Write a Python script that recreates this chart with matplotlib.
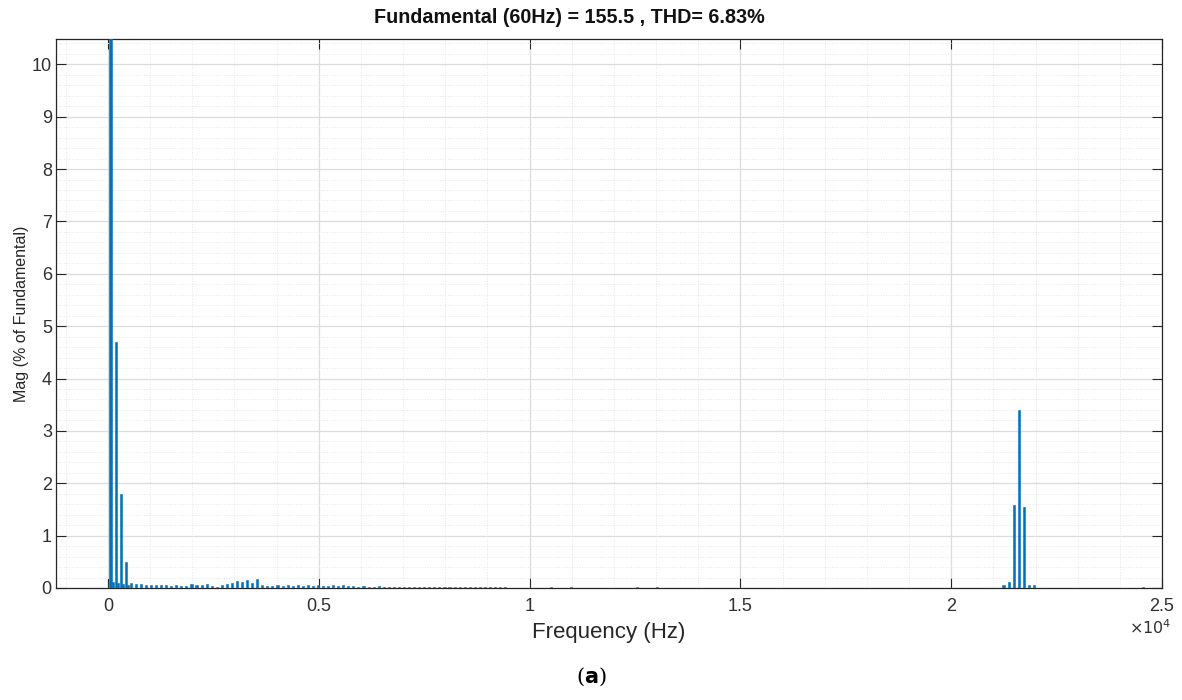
import matplotlib
matplotlib.use('Agg')
from matplotlib import pyplot as plt
from matplotlib.ticker import MultipleLocator, FuncFormatter

# harmonic orders of 60 Hz and magnitude in % of fundamental
low_orders = [1, 2, 3, 4, 5, 6, 7, 8]
low_mags = [100.0, 0.12, 4.7, 0.10, 1.8, 0.08, 0.5, 0.06]

mid_orders = [9, 11, 13, 15, 17, 19, 21, 23, 25, 27, 29, 31, 33, 35, 37, 39,
              41, 43, 45, 47, 49, 51, 53, 55, 57, 59, 61, 63, 65, 67, 69, 71,
              73, 75, 77, 79, 81, 83, 85, 87, 89, 91, 93, 95, 97, 99, 101, 103,
              105, 107, 109, 111, 113, 115, 117, 119, 121, 123, 125, 127, 129,
              131, 133, 135, 137, 139, 141, 143, 145, 147, 149, 151, 153, 155, 157]
mid_mags = [0.10, 0.08, 0.07, 0.06, 0.06, 0.05, 0.05, 0.06, 0.04, 0.05, 0.04,
            0.03, 0.07, 0.06, 0.05, 0.07, 0.04, 0.02, 0.06, 0.08, 0.09, 0.13,
            0.12, 0.16, 0.10, 0.17, 0.06, 0.04, 0.03, 0.05, 0.04, 0.05, 0.04,
            0.05, 0.04, 0.06, 0.04, 0.05, 0.03, 0.04, 0.05, 0.04, 0.05, 0.03,
            0.04, 0.02, 0.03, 0.02, 0.02, 0.03, 0.02, 0.02, 0.02, 0.02, 0.02,
            0.02, 0.02, 0.02, 0.015, 0.02, 0.015, 0.02, 0.02, 0.015, 0.015,
            0.02, 0.015, 0.015, 0.02, 0.015, 0.015, 0.015, 0.015, 0.015, 0.01]

high_orders = [175, 183, 209, 217, 354, 356, 358, 360, 362, 364, 366, 409]
high_mags = [0.015, 0.015, 0.01, 0.01, 0.05, 0.12, 1.58, 3.4, 1.55, 0.05, 0.05, 0.015]

title = 'Fundamental (60Hz) = 155.5 , THD= 6.83%'
f0 = 60

orders = low_orders + mid_orders + high_orders
mags = low_mags + mid_mags + high_mags
freqs = [n * f0 for n in orders]

plt.rcParams['font.family'] = ['Liberation Sans', 'DejaVu Sans']

fig = plt.figure(figsize=(11.82, 7.0), dpi=100)
ax = fig.add_axes([0.0474, 0.16, 0.9357, 0.784])

ax.bar(freqs, mags, width=50, color='#0072BD', edgecolor='#0072BD',
       linewidth=0.4, zorder=3)

ax.set_xlim(-1233, 25000)
ax.set_ylim(0, 10.48)

ax.xaxis.set_major_locator(MultipleLocator(5000))
ax.xaxis.set_minor_locator(MultipleLocator(1000))
ax.yaxis.set_major_locator(MultipleLocator(1))
ax.yaxis.set_minor_locator(MultipleLocator(0.2))
ax.xaxis.set_major_formatter(FuncFormatter(lambda v, p: '%g' % (v / 1e4)))

ax.grid(which='major', color='#dcdcdc', linewidth=0.9, zorder=0)
ax.grid(which='minor', color='#e6e6e6', linewidth=0.7, linestyle=':', zorder=0)
ax.set_axisbelow(True)

ax.tick_params(which='major', direction='in', top=True, right=True,
               length=7, width=0.8, color='#262626', labelsize=13,
               labelcolor='#303030')
ax.tick_params(axis='x', which='major', pad=7)
ax.tick_params(axis='y', which='major', pad=3)
ax.tick_params(which='minor', length=0)
for s in ax.spines.values():
    s.set_color('#262626')
    s.set_linewidth(0.9)

ax.set_title(title, fontsize=14.2, fontweight='bold', color='#111111', pad=12,
             x=0.464)
ax.set_xlabel('Frequency (Hz)', fontsize=16, color='#262626', labelpad=5)
ax.set_ylabel('Mag (% of Fundamental)', fontsize=11.5, color='#262626')
ax.yaxis.set_label_coords(-0.024, 0.5)

fig.text(0.955, 0.094, r'$\times10^{4}$', fontsize=11.5, color='#303030')
fig.text(0.5, 0.025, r'($\mathbf{a}$)', fontsize=15, ha='center',
         family='DejaVu Serif')

fig.savefig('out.png', dpi=100)
